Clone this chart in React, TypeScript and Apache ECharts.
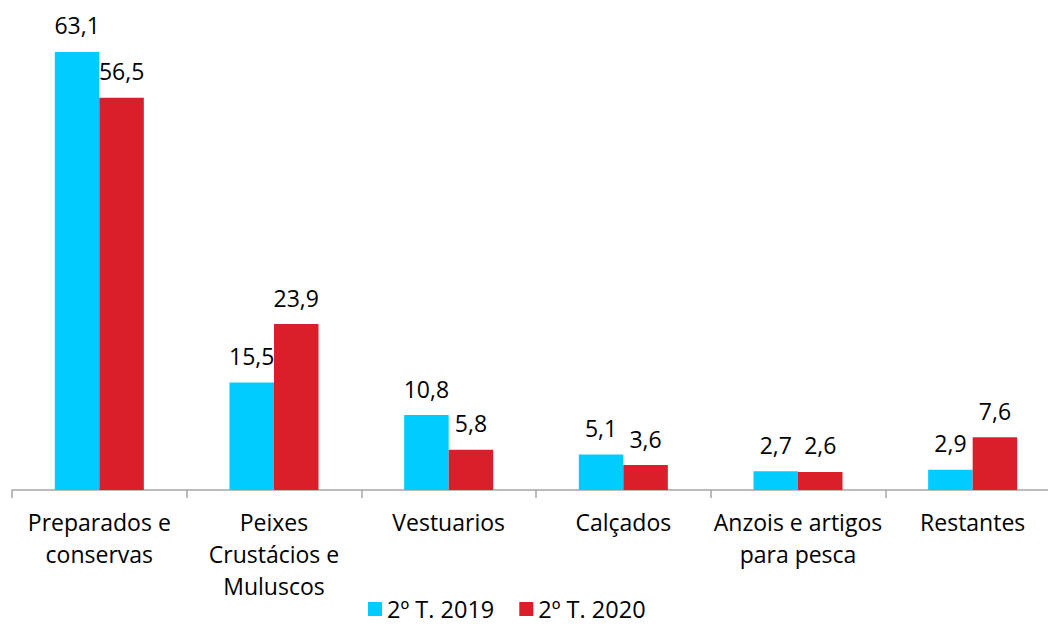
import React, { useEffect, useRef } from "react";
import * as echarts from "echarts";

const categories = [
  "Preparados e\nconservas",
  "Peixes\nCrustácios e\nMuluscos",
  "Vestuarios",
  "Calçados",
  "Anzois e artigos\npara pesca",
  "Restantes",
];
const seriesNames = ["2º T. 2019", "2º T. 2020"];
const values2019 = [63.1, 15.5, 10.8, 5.1, 2.7, 2.9];
const values2020 = [56.5, 23.9, 5.8, 3.6, 2.6, 7.6];

const FONT = "'Open Sans', sans-serif";

export default function App() {
  const ref = useRef<HTMLDivElement>(null);
  useEffect(() => {
    if (!ref.current) return;
    const chart = echarts.init(ref.current, undefined, { renderer: "svg" });
    const label = {
      show: true,
      position: "top" as const,
      distance: 15,
      color: "#000",
      fontFamily: FONT,
      fontSize: 23,
      formatter: (p: any) => Number(p.value).toFixed(1).replace(".", ","),
    };
    chart.setOption({
      animation: false,
      backgroundColor: "#fff",
      textStyle: { fontFamily: FONT },
      grid: { left: 12, width: 1048, top: 4, height: 486, outerBoundsMode: "none" },
      legend: {
        data: seriesNames,
        left: 368,
        top: 597,
        padding: 0,
        icon: "rect",
        itemWidth: 14,
        itemHeight: 14,
        itemGap: 25,
        textStyle: { fontFamily: FONT, fontSize: 23.5, lineHeight: 24, color: "#000" },
      },
      xAxis: {
        type: "category",
        data: categories,
        axisLine: { lineStyle: { color: "#A6A6A6", width: 1.5 } },
        axisTick: { show: true, length: 8, lineStyle: { color: "#A6A6A6", width: 1.5 } },
        axisLabel: {
          interval: 0,
          margin: 16,
          color: "#000",
          fontFamily: FONT,
          fontSize: 23,
          lineHeight: 32,
        },
      },
      yAxis: {
        type: "value",
        min: 0,
        max: 70,
        show: false,
        splitLine: { show: false },
      },
      series: [
        {
          name: seriesNames[0],
          type: "bar",
          data: values2019,
          barWidth: 44.5,
          barGap: "0%",
          itemStyle: { color: "#00CCFF" },
          label,
        },
        {
          name: seriesNames[1],
          type: "bar",
          data: values2020,
          barWidth: 44.5,
          barGap: "0%",
          itemStyle: { color: "#DA1F2B" },
          label,
        },
      ],
    });
    return () => chart.dispose();
  }, []);
  return (
    <div
      ref={ref}
      style={{ position: "absolute", left: 0, top: 0, width: 1048, height: 628 }}
    />
  );
}
